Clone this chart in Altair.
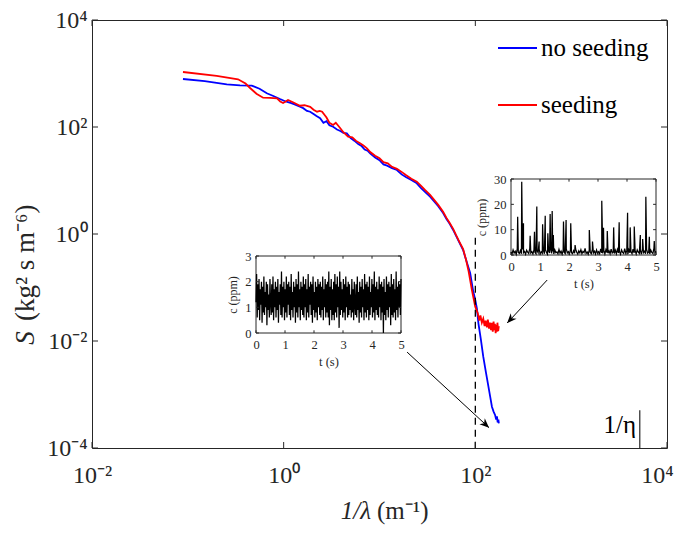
import json
import math
import altair as alt
import numpy as np
import pandas as pd

W, H = 575, 428
SERIF = "Liberation Serif"
INK = "#262626"

# ---------------- data ----------------
series_names = ["no seeding", "seeding"]
series_colors = ["#0000FF", "#FF0000"]

blue_x = [0.089, 0.15, 0.255, 0.35, 0.465, 0.56, 0.667, 0.78, 0.916, 1.05, 1.2, 1.3,
          1.48, 1.6, 1.75, 1.89, 2.05, 2.2, 2.4, 2.6, 2.8, 3.0, 3.28, 3.6, 3.9, 4.2,
          4.56, 5.0, 5.5, 6.0, 6.5, 7.0, 7.5, 7.98, 9.0, 10.0, 11.0, 12.0, 13.5, 15.2,
          17.0, 19.0, 21.5, 24.5, 27.0, 30.0, 33.7, 37.0, 41.0, 46.1, 50.0, 54.0, 58.7,
          63.0, 68.0, 74.6, 80.0, 88.3, 95.0, 100.0, 104.0, 107.7, 114.0, 121.0, 129.0,
          137.0, 143.0, 149.0, 155.0, 161.0, 165.0, 168.0, 171.0, 174.0, 176.0]
blue_y = [789, 720, 628, 600, 592, 520, 427, 380, 333, 300, 280, 265,
          239, 225, 200, 193, 175, 160, 146, 120, 128, 108, 101, 90, 84, 78,
          76, 62, 55, 48, 44, 38, 36, 32.2, 27, 24, 20, 19, 17, 15.7,
          13, 11.5, 10.2, 8.87, 7.3, 6.1, 4.98, 4.1, 3.3, 2.47, 1.9, 1.55, 1.19,
          0.92, 0.70, 0.50, 0.33, 0.187, 0.085, 0.058, 0.040, 0.0214, 0.011, 0.00509, 0.0026,
          0.0014, 0.0009, 5.9e-4, 4.8e-4, 4.1e-4, 3.4e-4, 3.9e-4, 3.0e-4, 3.4e-4, 2.9e-4]

red_x = [0.089, 0.2, 0.334, 0.40, 0.446, 0.52, 0.61, 0.72, 0.853, 0.92, 0.986, 1.05,
         1.11, 1.25, 1.48, 1.65, 1.89, 2.05, 2.23, 2.38, 2.52, 2.8, 3.0, 3.28, 3.5,
         3.88, 4.2, 4.7, 5.2, 5.7, 6.2, 6.8, 7.4, 8.0, 9.0, 10.0, 11.0, 12.2, 13.5,
         15.2, 17.0, 19.0, 21.5, 24.5, 27.0, 30.0, 33.7, 37.0, 41.0, 46.1, 50.0, 54.0,
         58.7, 63.0, 68.0, 74.6, 80.0, 85.1, 92.0, 99.8, 106.0, 110.0, 113.0, 117.0, 121.0,
         125.0, 128.0, 132.0, 135.0, 139.0, 142.0, 146.0, 149.0, 152.0, 155.0, 158.0, 160.0,
         163.0, 165.0, 168.0, 170.0, 173.0, 176.0]
red_y = [1067, 900, 780, 650, 536, 420, 353, 350, 344, 300, 281, 300,
         320, 290, 250, 255, 239, 210, 193, 200, 193, 150, 120, 109, 120,
         95.7, 80, 65.9, 64, 55, 50, 45, 40, 34, 29, 26, 22, 21, 18,
         16.5, 14.5, 12.5, 10.8, 9.5, 8.0, 6.6, 5.4, 4.4, 3.5, 2.6, 2.0, 1.6,
         1.25, 0.95, 0.72, 0.52, 0.33, 0.2, 0.09, 0.0438, 0.033, 0.024, 0.030, 0.022, 0.0260,
         0.019, 0.024, 0.018, 0.025, 0.017, 0.022, 0.016, 0.0219, 0.015, 0.023, 0.016, 0.021,
         0.014, 0.020, 0.015, 0.022, 0.0153, 0.019]

main_x_domain = [1e-2, 1e4]
main_y_domain = [1e-4, 1e4]
x_ticks = [1e-2, 1e0, 1e2, 1e4]
x_tick_labels = ["10⁻²", "10⁰", "10²", "10⁴"]
y_ticks = [1e-4, 1e-2, 1e0, 1e2, 1e4]
y_tick_labels = ["10⁻⁴", "10⁻²", "10⁰", "10²", "10⁴"]

dash_x = [100.0]
dash_top = [0.85]
eta_x = [5200.0]
eta_top = [5.1e-4]

arrow_x0 = [19.4, 562.0]
arrow_y0 = [6.2e-3, 0.138]
arrow_x1 = [139.0, 215.0]
arrow_y1 = [2.4e-4, 0.0217]

# inset 1 (no seeding) concentration record
inset1_c = [1.2, 2.3, 0.6, 1.9, 0.9, 2.1, 0.5, 1.7, 1.1, 2.0, 0.4, 1.8, 0.8, 2.2, 0.7, 1.6, 1.0, 2.0, 0.3, 1.9,
            0.9, 1.5, 0.6, 2.1, 1.2, 0.7, 1.9, 0.8, 2.2, 0.5, 1.7, 1.0, 2.0, 0.6, 1.8, 0.9, 2.1, 0.4, 1.6, 1.1,
            1.9, 0.7, 2.4, 0.6, 1.8, 1.0, 2.0, 0.5, 1.7, 0.8, 2.2, 0.6, 1.9, 1.1, 2.0, 0.7, 1.8, 0.5, 2.3, 0.9,
            1.6, 0.6, 2.0, 1.0, 1.8, 0.4, 2.1, 0.8, 1.9, 0.6, 2.4, 1.0, 1.7, 0.5, 2.0, 0.9, 1.8, 0.7, 2.2, 0.6,
            1.9, 1.0, 2.1, 0.5, 1.7, 0.8, 2.3, 0.6, 1.8, 1.1, 2.0, 0.7, 1.9, 0.4, 2.2, 0.9, 1.6, 0.6, 2.0, 0.8,
            1.8, 0.5, 2.1, 1.0, 1.9, 0.7, 2.0, 0.6, 1.8, 0.9, 2.2, 0.5, 1.7, 1.0, 2.1, 0.6, 1.9, 0.8, 2.0, 0.6,
            2.4, 0.3, 1.8, 0.9, 2.1, 0.5, 1.7, 0.7, 2.0, 0.5, 2.3, 0.8, 1.9, 0.6, 2.2, 1.0, 1.8, 0.2, 2.4, 0.7,
            2.0, 0.9, 1.7, 0.6, 2.1, 0.8, 1.9, 0.5, 2.2, 1.0, 1.8, 0.6, 2.0, 0.7, 1.9, 0.9, 1.5, 0.6, 2.1, 0.8,
            1.7, 0.5, 2.0, 1.1, 0.7, 1.9, 0.6, 2.2, 0.9, 1.6, 0.4, 2.0, 0.8, 1.8, 0.6, 2.1, 1.0, 1.7, 0.5, 2.3,
            0.8, 1.9, 0.6, 2.0, 0.9, 1.8, 0.5, 2.2, 0.7, 1.6, 1.0, 2.1, 0.6, 1.9, 0.8, 2.4, 0.5, 1.8, 0.9, 2.0,
            0.7, 1.7, 0.6, 2.2, 1.0, 1.9, 0.5, 2.0, 0.8, 1.8, 0.0, 2.1, 0.7, 1.6, 0.5, 2.2, 0.9, 1.9, 0.6, 2.0,
            1.0, 1.8, 0.3, 2.3, 0.7, 1.9, 0.6, 2.1, 0.8, 1.7, 0.5, 2.4, 0.9, 1.8, 0.6, 2.0, 1.0, 1.9, 0.7, 2.1]

# inset 2 (seeding): baseline record plus spikes
inset2_base = [1.2, 0.4, 2.0, 0.8, 1.5, 0.3, 2.4, 1.0, 0.6, 1.8, 0.5, 2.2, 0.9, 1.4, 0.3, 1.9, 1.1, 0.6, 2.6, 0.8,
               1.3, 0.4, 2.0, 1.0, 0.5, 1.7, 0.9, 2.3, 0.4, 1.2, 0.7, 1.9, 0.5, 2.1, 1.0, 0.3, 1.6, 0.8, 2.5, 0.6,
               1.4, 0.4, 2.0, 0.9, 1.2, 0.5, 2.2, 0.7, 1.5, 0.3, 1.8, 1.0, 0.6, 2.4, 0.8, 1.3, 0.4, 2.0, 0.9, 0.5,
               1.7, 0.7, 2.3, 1.1, 0.4, 1.6, 0.8, 2.1, 0.5, 1.4, 0.9, 2.6, 0.6, 1.2, 0.3, 1.9, 1.0, 0.5, 2.2, 0.8,
               1.5, 0.4, 2.0, 0.7, 1.3, 0.5, 2.4, 0.9, 0.6, 1.8, 0.4, 2.1, 1.0, 0.7, 1.6, 0.5, 2.3, 0.8, 1.2, 0.6,
               1.9, 0.5, 2.2, 0.8, 1.4, 0.3, 2.0, 1.0, 0.6, 2.5, 0.7, 1.6, 0.4, 2.1, 0.9, 1.3, 0.5, 2.3, 0.8, 1.7,
               0.4, 2.0, 1.1, 0.6, 1.8, 0.3, 2.4, 0.9, 1.5, 0.5, 2.2, 0.7, 1.2, 0.4, 1.9, 1.0, 0.6, 2.6, 0.8, 1.4]
spike_t = [0.23, 0.37, 0.43, 0.66, 0.81, 0.89, 0.97, 1.09, 1.18, 1.27, 1.35, 1.42, 1.46,
           1.81, 1.90, 2.06, 2.21, 2.70, 2.81, 3.13, 3.19, 3.32, 3.54, 3.73, 4.02, 4.11,
           4.25, 4.46, 4.54, 4.65, 4.77, 4.94]
spike_c = [15.1, 28.9, 12.5, 7.6, 9.2, 19.1, 5.3, 12.1, 15.5, 8.6, 16.2, 17.4, 7.9,
           13.2, 13.8, 12.5, 3.9, 9.9, 5.3, 21.4, 10.8, 9.5, 10.9, 12.9, 16.7, 10.9,
           11.2, 7.9, 6.3, 23.0, 7.2, 5.5]

inset_t_domain = [0, 5]
inset_t_ticks = [0, 1, 2, 3, 4, 5]
inset1_c_domain = [0, 3]
inset1_c_ticks = [0, 1, 2, 3]
inset2_c_domain = [0, 30]
inset2_c_ticks = [0, 10, 20, 30]


# ---------------- helpers ----------------
def label_expr(values, labels):
    return f"{json.dumps(labels)}[indexof({json.dumps(values)}, datum.value)]"


def xs_main():
    return alt.Scale(type="log", domain=main_x_domain, nice=False)


def ys_main():
    return alt.Scale(type="log", domain=main_y_domain, nice=False)


def X(f, **k):
    k.setdefault("axis", None)
    return alt.X(f, scale=xs_main(), **k)


def Y(f, **k):
    k.setdefault("axis", None)
    return alt.Y(f, scale=ys_main(), **k)


x_axis_main = alt.Axis(orient="bottom", values=x_ticks, labelExpr=label_expr(x_ticks, x_tick_labels),
                       ticks=False, domain=False, grid=False, labelFont=SERIF, labelFontSize=24,
                       labelColor=INK, labelPadding=15, labelFlush=False, labelOverlap=False, title=None,
                       labelOffset={"condition": {"test": f"datum.value >= {x_ticks[-1]}", "value": -10},
                                    "value": 0})
y_axis_main = alt.Axis(orient="left", values=y_ticks, labelExpr=label_expr(y_ticks, y_tick_labels),
                       ticks=False, domain=False, grid=False, labelFont=SERIF, labelFontSize=24,
                       labelColor=INK, labelPadding=5, labelFlush=False, labelOverlap=False, title=None)

df_blue = pd.DataFrame({"x": blue_x, "y": blue_y, "i": range(len(blue_x))})
df_red = pd.DataFrame({"x": red_x, "y": red_y, "i": range(len(red_x))})

blue = alt.Chart(df_blue).mark_line(color=series_colors[0], strokeWidth=1.8).encode(
    x=X("x:Q", axis=x_axis_main), y=Y("y:Q", axis=y_axis_main), order="i:Q")
red = alt.Chart(df_red).mark_line(color=series_colors[1], strokeWidth=1.8).encode(
    x=X("x:Q"), y=Y("y:Q"), order="i:Q")

dash = alt.Chart(pd.DataFrame({"x": dash_x, "y": dash_top, "y2": [main_y_domain[0]]})).mark_rule(
    color="black", strokeWidth=1.3, strokeDash=[7, 5]).encode(x=X("x:Q"), y=Y("y:Q"), y2="y2:Q")

eta = alt.Chart(pd.DataFrame({"x": eta_x, "y": eta_top, "y2": [main_y_domain[0]]})).mark_rule(
    color=INK, strokeWidth=1.2).encode(x=X("x:Q"), y=Y("y:Q"), y2="y2:Q")
eta_text = alt.Chart(pd.DataFrame({"t": ["1/η"]})).mark_text(
    font=SERIF, fontSize=25, align="right", baseline="alphabetic", color="black").encode(
    text="t:N", x=alt.value(544), y=alt.value(413))

# inward ticks on the main frame
df_xt = pd.DataFrame({"x": x_ticks})
df_yt = pd.DataFrame({"y": y_ticks})
tick_b = alt.Chart(df_xt).mark_rule(color=INK).encode(x=X("x:Q"), y=alt.value(H), y2=alt.value(H - 6))
tick_t = alt.Chart(df_xt).mark_rule(color=INK).encode(x=X("x:Q"), y=alt.value(0), y2=alt.value(6))
tick_l = alt.Chart(df_yt).mark_rule(color=INK).encode(y=Y("y:Q"), x=alt.value(0), x2=alt.value(6))
tick_r = alt.Chart(df_yt).mark_rule(color=INK).encode(y=Y("y:Q"), x=alt.value(W), x2=alt.value(W - 6))


# arrows
def screen_angle(x0, y0, x1, y1):
    dx = (math.log10(x1) - math.log10(x0)) / 6 * W
    dy = -(math.log10(y1) - math.log10(y0)) / 8 * H
    return math.degrees(math.atan2(dy, dx)) % 360


df_arrow = pd.DataFrame({"x0": arrow_x0, "y0": arrow_y0, "x1": arrow_x1, "y1": arrow_y1})
df_arrow["ang"] = [screen_angle(a, b, c, d) for a, b, c, d in zip(arrow_x0, arrow_y0, arrow_x1, arrow_y1)]
arrow_line = alt.Chart(df_arrow).mark_rule(color="black", strokeWidth=1).encode(
    x=X("x0:Q"), y=Y("y0:Q"), x2="x1:Q", y2="y1:Q")
arrow_head = alt.Chart(df_arrow).mark_point(
    shape="M0,0L-1,-0.42L-0.7,0L-1,0.42Z", filled=True, color="black", opacity=1, size=360).encode(
    x=X("x1:Q"), y=Y("y1:Q"), angle=alt.Angle("ang:Q", scale=None))

# legend (drawn by hand, MATLAB style)
legend_layers = []
for k, (name, col) in enumerate(zip(series_names, series_colors)):
    ly = [28, 85][k]
    d = pd.DataFrame({"name": [name]})
    legend_layers.append(alt.Chart(d).mark_rule(color=col, strokeWidth=1.8).encode(
        x=alt.value(406), x2=alt.value(445), y=alt.value(ly)))
    legend_layers.append(alt.Chart(d).mark_text(font=SERIF, fontSize=25, align="left",
                                                baseline="middle", color="black").encode(
        text="name:N", x=alt.value(449), y=alt.value(ly)))

# axis titles as text
ytitle_s = alt.Chart(pd.DataFrame({"t": ["S"]})).mark_text(
    font=SERIF, fontSize=27, fontStyle="italic", angle=270, align="center", baseline="middle", color=INK).encode(
    text="t:N", x=alt.value(-66), y=alt.value(318))
ytitle_u = alt.Chart(pd.DataFrame({"t": ["(kg² s m⁻⁶)"]})).mark_text(
    font=SERIF, fontSize=27, angle=270, align="left", baseline="middle", color=INK).encode(
    text="t:N", x=alt.value(-66), y=alt.value(301))
xtitle_a = alt.Chart(pd.DataFrame({"t": ["1/λ"]})).mark_text(
    font=SERIF, fontSize=25, fontStyle="italic", align="right", baseline="middle", color=INK).encode(
    text="t:N", x=alt.value(279), y=alt.value(491))
xtitle_b = alt.Chart(pd.DataFrame({"t": ["(m⁻¹)"]})).mark_text(
    font=SERIF, fontSize=25, align="left", baseline="middle", color=INK).encode(
    text="t:N", x=alt.value(285), y=alt.value(491))

main_layers = [blue, red, dash, eta, eta_text, tick_b, tick_t, tick_l, tick_r,
               arrow_line, arrow_head, *legend_layers, ytitle_s, ytitle_u, xtitle_a, xtitle_b]


# ---------------- insets ----------------
def make_inset(t, c, c_domain, c_ticks, xr, yr):
    def xs():
        return alt.Scale(domain=inset_t_domain, range=xr, nice=False, zero=False)

    def ys():
        return alt.Scale(domain=c_domain, range=yr, nice=False, zero=False)

    x_axis = alt.Axis(orient="bottom", offset=-(H - yr[0]), values=inset_t_ticks, format="d",
                      ticks=False, domain=False, grid=False, labelFont=SERIF, labelFontSize=12.5,
                      labelColor=INK, labelPadding=5, labelFlush=False, labelOverlap=False,
                      title="t (s)", titleFont=SERIF, titleFontSize=12.5, titleFontWeight="normal",
                      titleColor=INK, titlePadding=5)
    y_axis = alt.Axis(orient="left", offset=-xr[0], values=c_ticks, format="d",
                      ticks=False, domain=False, grid=False, labelFont=SERIF, labelFontSize=12.5,
                      labelColor=INK, labelPadding=5, labelFlush=False, labelOverlap=False,
                      title="c (ppm)", titleFont=SERIF, titleFontSize=12, titleFontWeight="normal",
                      titleColor=INK, titlePadding=5)
    frame = alt.Chart(pd.DataFrame({"a": [inset_t_domain[0]], "b": [inset_t_domain[1]],
                                    "lo": [c_domain[0]], "hi": [c_domain[1]]})).mark_rect(
        fill="white", stroke=INK, strokeWidth=1).encode(
        x=alt.X("a:Q", scale=xs(), axis=None), x2="b:Q", y=alt.Y("lo:Q", scale=ys(), axis=None), y2="hi:Q")
    df = pd.DataFrame({"t": t, "c": c, "i": range(len(t))})
    line = alt.Chart(df).mark_line(color="black", strokeWidth=1.25).encode(
        x=alt.X("t:Q", scale=xs(), axis=x_axis), y=alt.Y("c:Q", scale=ys(), axis=y_axis), order="i:Q")
    span_c = c_domain[1] - c_domain[0]
    span_t = inset_t_domain[1] - inset_t_domain[0]
    dtb = pd.DataFrame({"t": inset_t_ticks, "a": [c_domain[0]] * len(inset_t_ticks),
                        "b": [c_domain[0] + 0.035 * span_c] * len(inset_t_ticks)})
    dtt = pd.DataFrame({"t": inset_t_ticks, "a": [c_domain[1]] * len(inset_t_ticks),
                        "b": [c_domain[1] - 0.035 * span_c] * len(inset_t_ticks)})
    dcl = pd.DataFrame({"c": c_ticks, "a": [inset_t_domain[0]] * len(c_ticks),
                        "b": [inset_t_domain[0] + 0.02 * span_t] * len(c_ticks)})
    dcr = pd.DataFrame({"c": c_ticks, "a": [inset_t_domain[1]] * len(c_ticks),
                        "b": [inset_t_domain[1] - 0.02 * span_t] * len(c_ticks)})
    tb = alt.Chart(dtb).mark_rule(color=INK).encode(
        x=alt.X("t:Q", scale=xs(), axis=None), y=alt.Y("a:Q", scale=ys(), axis=None), y2="b:Q")
    tt = alt.Chart(dtt).mark_rule(color=INK).encode(
        x=alt.X("t:Q", scale=xs(), axis=None), y=alt.Y("a:Q", scale=ys(), axis=None), y2="b:Q")
    tl = alt.Chart(dcl).mark_rule(color=INK).encode(
        y=alt.Y("c:Q", scale=ys(), axis=None), x=alt.X("a:Q", scale=xs(), axis=None), x2="b:Q")
    tr = alt.Chart(dcr).mark_rule(color=INK).encode(
        y=alt.Y("c:Q", scale=ys(), axis=None), x=alt.X("a:Q", scale=xs(), axis=None), x2="b:Q")
    return [frame, line, tb, tt, tl, tr]


t1 = np.linspace(inset_t_domain[0], inset_t_domain[1], len(inset1_c))
inset1 = make_inset(t1, inset1_c, inset1_c_domain, inset1_c_ticks, [164, 309], [313, 236])

t2b = np.linspace(inset_t_domain[0], inset_t_domain[1], len(inset2_base))
pts = sorted(list(zip(t2b, inset2_base)) + list(zip(spike_t, spike_c)))
inset2 = make_inset([p[0] for p in pts], [p[1] for p in pts], inset2_c_domain, inset2_c_ticks,
                    [419, 564], [235, 159])

chart = alt.layer(*main_layers, *inset1, *inset2).resolve_scale(
    x="independent", y="independent").properties(
    width=W, height=H, autosize=alt.AutoSizeParams(type="none"),
    padding={"left": 84, "top": 12, "right": 10, "bottom": 80},
    background="white",
).configure_view(stroke=INK, strokeWidth=1)

chart.save("out.html", embed_options={"renderer": "svg", "actions": False})
